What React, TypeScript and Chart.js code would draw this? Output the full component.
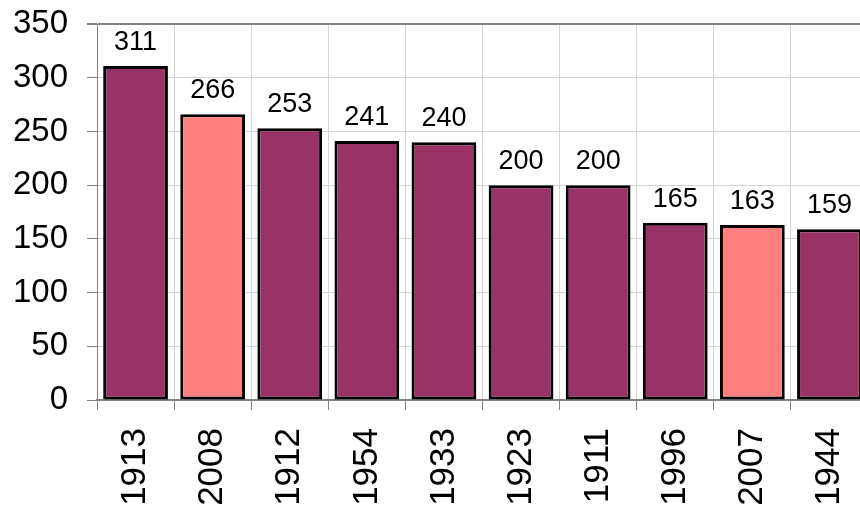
import React, { useEffect, useRef } from "react";
import { Chart, registerables } from "chart.js";

Chart.register(...registerables);

const categories: string[] = ["1913", "2008", "1912", "1954", "1933", "1923", "1911", "1996", "2007", "1944"];
const values: number[] = [311, 266, 253, 241, 240, 200, 200, 165, 163, 159];
const highlighted: boolean[] = [false, true, false, false, false, false, false, false, true, false];
const yTicks: number[] = [0, 50, 100, 150, 200, 250, 300, 350];

const MAGENTA = "#993366";
const SALMON = "#FF8080";
const FONT = "'Liberation Sans', Arial, sans-serif";

const valueLabels = {
  id: "valueLabels",
  afterDatasetsDraw(chart: any) {
    const ctx = chart.ctx;
    const meta = chart.getDatasetMeta(0);
    ctx.save();
    ctx.font = `27px ${FONT}`;
    ctx.fillStyle = "#000";
    ctx.textAlign = "center";
    ctx.textBaseline = "alphabetic";
    meta.data.forEach((bar: any, i: number) => {
      ctx.fillText(String(values[i]), bar.x, bar.y - 16);
    });
    ctx.restore();
  },
};

export default function App() {
  const ref = useRef<HTMLCanvasElement | null>(null);

  useEffect(() => {
    if (!ref.current) return;
    const chart = new Chart(ref.current, {
      type: "bar",
      data: {
        labels: categories,
        datasets: [
          {
            data: values,
            backgroundColor: highlighted.map((h) => (h ? SALMON : MAGENTA)),
            borderColor: "#000",
            borderWidth: 3,
            borderSkipped: false,
            barPercentage: 0.84,
            categoryPercentage: 1,
          },
        ],
      },
      options: {
        animation: false,
        responsive: false,
        devicePixelRatio: 1,
        layout: { padding: { top: 24, right: 32, left: 0, bottom: 0 } },
        plugins: { legend: { display: false }, tooltip: { enabled: false } },
        scales: {
          x: {
            grid: {
              offset: true,
              color: "#d4d4d4",
              lineWidth: 1,
              tickColor: "#808080",
              tickLength: 10,
            },
            border: { color: "#808080", width: 2 },
            ticks: {
              color: "#000",
              font: { family: FONT, size: 35 },
              maxRotation: 90,
              minRotation: 90,
              padding: 18,
              autoSkip: false,
            },
            afterFit(scale: any) {
              scale.height = 110;
              scale.paddingLeft = 0;
              scale.paddingRight = 0;
              scale.paddingTop = 0;
              scale.paddingBottom = 0;
            },
          },
          y: {
            min: 0,
            max: 350,
            afterBuildTicks(scale: any) {
              scale.ticks = yTicks.map((v) => ({ value: v }));
            },
            grid: {
              color: (c: any) => (c.tick && c.tick.value === 350 ? "#808080" : "#d4d4d4"),
              lineWidth: (c: any) => (c.tick && c.tick.value === 350 ? 2 : 1),
              tickColor: "#808080",
              tickLength: 10,
            },
            border: { color: "#808080", width: 1 },
            ticks: {
              color: "#000",
              font: { family: FONT, size: 33 },
              padding: 19,
            },
            afterFit(scale: any) {
              scale.width = 97;
              scale.paddingTop = 0;
              scale.paddingBottom = 0;
              scale.paddingLeft = 0;
              scale.paddingRight = 0;
            },
          },
        },
      },
      plugins: [valueLabels],
    });
    return () => chart.destroy();
  }, []);

  return (
    <div style={{ position: "fixed", left: 0, top: 0, width: 860, height: 510, overflow: "hidden", background: "#fff" }}>
      <canvas ref={ref} width={900} height={510} style={{ display: "block" }} />
    </div>
  );
}
